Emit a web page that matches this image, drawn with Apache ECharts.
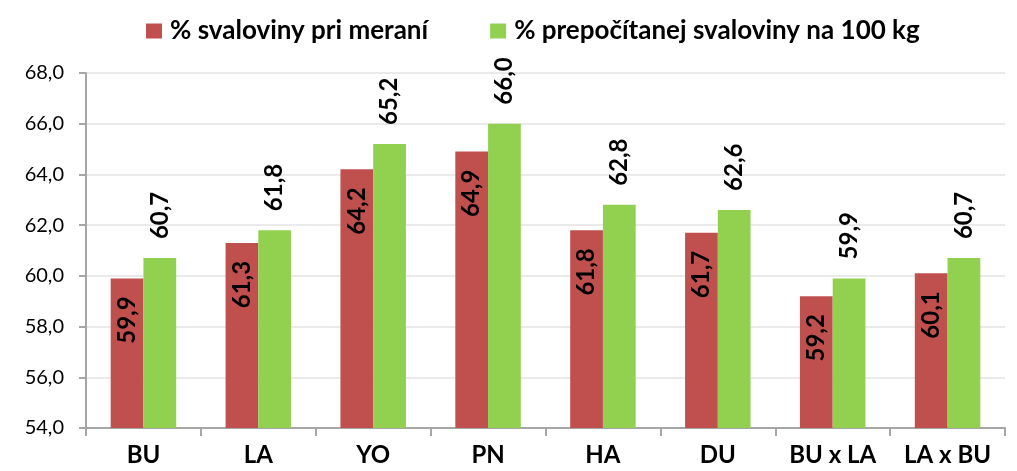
<!DOCTYPE html>
<html>
<head>
<meta charset="utf-8">
<script src="https://cdn.jsdelivr.net/npm/echarts@6/dist/echarts.min.js"></script>
<style>
  html, body { margin: 0; padding: 0; background: #fff; }
  #chart { width: 1017px; height: 471px; }
</style>
</head>
<body>
<div id="chart"></div>
<script>
// kategórie a hodnoty
const categories = ["BU", "LA", "YO", "PN", "HA", "DU", "BU x LA", "LA x BU"];
const pctMeasured = [59.9, 61.3, 64.2, 64.9, 61.8, 61.7, 59.2, 60.1];
const pctPer100kg = [60.7, 61.8, 65.2, 66.0, 62.8, 62.6, 59.9, 60.7];
const seriesNames = ["% svaloviny pri meraní", "% prepočítanej svaloviny na 100 kg"];

const font = "Lato, 'Noto Sans', sans-serif";
const fmt = (p) => p.value.toFixed(1).replace(".", ",");

const chart = echarts.init(document.getElementById("chart"));
chart.setOption({
    animation: false,
    textStyle: { fontFamily: font },
    legend: {
        top: 13,
        left: 141,
        itemWidth: 16,
        itemHeight: 15,
        itemGap: 62,
        icon: "rect",
        textStyle: { fontSize: 26, fontWeight: "bold", color: "#000", fontFamily: font, padding: [0, 0, 0, 3] },
        data: seriesNames,
    },
    grid: { left: 86, right: 12, top: 73, bottom: 43 },
    xAxis: {
        type: "category",
        data: categories,
        axisLine: { lineStyle: { color: "#a6a6a6", width: 2 } },
        axisTick: { show: true, length: 8, lineStyle: { color: "#a6a6a6", width: 2 } },
        axisLabel: { fontSize: 24, fontWeight: "bold", color: "#000", margin: 15, fontFamily: font },
    },
    yAxis: {
        type: "value",
        min: 54,
        max: 68,
        interval: 2,
        axisLine: { show: true, lineStyle: { color: "#a6a6a6", width: 2 } },
        axisTick: { show: true, length: 7, lineStyle: { color: "#a6a6a6", width: 2 } },
        splitLine: { lineStyle: { color: "#e3e3e3", width: 1.5 } },
        axisLabel: {
            fontSize: 20,
            color: "#000",
            margin: 22,
            fontFamily: font,
            formatter: (v) => v.toFixed(1).replace(".", ","),
        },
    },
    series: [
        {
            name: seriesNames[0],
            type: "bar",
            data: pctMeasured,
            barGap: "0%",
            barCategoryGap: "43%",
            itemStyle: { color: "#c0504d" },
            label: {
                show: true,
                position: "insideTop",
                rotate: 90,
                align: "right",
                verticalAlign: "middle",
                distance: 18,
                fontSize: 24,
                fontWeight: "bold",
                color: "#000",
                fontFamily: font,
                formatter: fmt,
            },
        },
        {
            name: seriesNames[1],
            type: "bar",
            data: pctPer100kg,
            itemStyle: { color: "#92d050" },
            label: {
                show: true,
                position: "top",
                rotate: 90,
                align: "left",
                verticalAlign: "middle",
                distance: 19,
                fontSize: 24,
                fontWeight: "bold",
                color: "#000",
                fontFamily: font,
                formatter: fmt,
            },
        },
    ],
});
</script>
</body>
</html>
